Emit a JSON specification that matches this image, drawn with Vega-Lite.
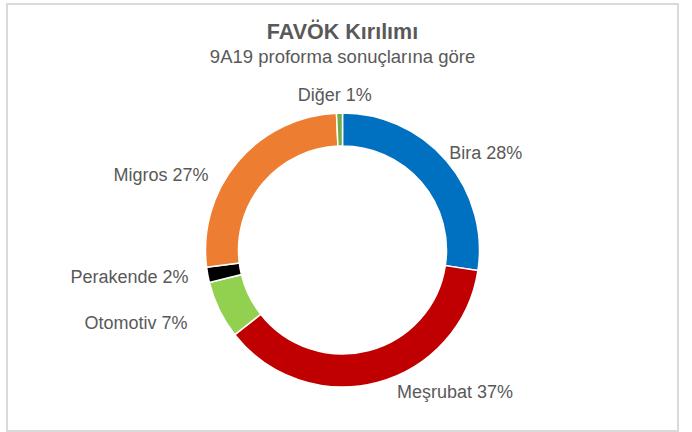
{
  "$schema": "https://vega.github.io/schema/vega-lite/v6.json",
  "width": 671,
  "height": 427,
  "autosize": {"type": "none"},
  "padding": {"left": 7, "top": 4, "right": 14, "bottom": 1},
  "background": "white",
  "view": {"stroke": "#d9d9d9", "strokeWidth": 2, "fill": "white"},
  "config": {"font": "Liberation Sans"},
  "title": {
    "text": "FAVÖK Kırılımı",
    "subtitle": "9A19 proforma sonuçlarına göre",
    "font": "Liberation Sans",
    "fontSize": 21.5,
    "fontWeight": "bold",
    "color": "#595959",
    "subtitleFont": "Liberation Sans",
    "subtitleFontSize": 18.5,
    "subtitleColor": "#595959",
    "subtitlePadding": 4,
    "anchor": "middle",
    "offset": -62
  },
  "data": {
    "values": [
      {"kategori": "Bira", "pay": 27.4, "etiket": "Bira 28%", "sira": 1},
      {"kategori": "Meşrubat", "pay": 37.0, "etiket": "Meşrubat 37%", "sira": 2},
      {"kategori": "Otomotiv", "pay": 6.8, "etiket": "Otomotiv 7%", "sira": 3},
      {"kategori": "Perakende", "pay": 1.8, "etiket": "Perakende 2%", "sira": 4},
      {"kategori": "Migros", "pay": 26.3, "etiket": "Migros 27%", "sira": 5},
      {"kategori": "Diğer", "pay": 0.7, "etiket": "Diğer 1%", "sira": 6}
    ]
  },
  "encoding": {
    "theta": {"field": "pay", "type": "quantitative", "stack": true},
    "order": {"field": "sira", "type": "quantitative"},
    "detail": {"field": "kategori", "type": "nominal"}
  },
  "layer": [
    {
      "mark": {"type": "arc", "outerRadius": 137, "innerRadius": 104, "stroke": "white", "strokeWidth": 1.5, "yOffset": 32.5},
      "encoding": {
        "color": {
          "field": "kategori",
          "type": "nominal",
          "scale": {
            "domain": ["Bira", "Meşrubat", "Otomotiv", "Perakende", "Migros", "Diğer"],
            "range": ["#0070C0", "#C00000", "#92D050", "#000000", "#ED7D31", "#70AD47"]
          },
          "legend": null
        }
      }
    },
    {
      "mark": {"type": "text", "radius": 140, "align": "left", "baseline": "alphabetic", "fontSize": 18, "color": "#595959", "dx": 0.5, "dy": 0, "yOffset": 32.5},
      "encoding": {"text": {"condition": {"test": "datum.kategori === 'Bira'", "field": "etiket"}, "value": ""}}
    },
    {
      "mark": {"type": "text", "radius": 157, "align": "left", "baseline": "alphabetic", "fontSize": 18, "color": "#595959", "dx": 14.5, "dy": -4, "yOffset": 32.5},
      "encoding": {"text": {"condition": {"test": "datum.kategori === 'Meşrubat'", "field": "etiket"}, "value": ""}}
    },
    {
      "mark": {"type": "text", "radius": 174, "align": "right", "baseline": "alphabetic", "fontSize": 18, "color": "#595959", "dx": 1.5, "dy": 3, "yOffset": 32.5},
      "encoding": {"text": {"condition": {"test": "datum.kategori === 'Otomotiv'", "field": "etiket"}, "value": ""}}
    },
    {
      "mark": {"type": "text", "radius": 158, "align": "right", "baseline": "alphabetic", "fontSize": 18, "color": "#595959", "dx": 1.5, "dy": 4, "yOffset": 32.5},
      "encoding": {"text": {"condition": {"test": "datum.kategori === 'Perakende'", "field": "etiket"}, "value": ""}}
    },
    {
      "mark": {"type": "text", "radius": 147, "align": "right", "baseline": "alphabetic", "fontSize": 18, "color": "#595959", "dx": -21.5, "dy": 26, "yOffset": 32.5},
      "encoding": {"text": {"condition": {"test": "datum.kategori === 'Migros'", "field": "etiket"}, "value": ""}}
    },
    {
      "mark": {"type": "text", "radius": 149.5, "align": "center", "baseline": "alphabetic", "fontSize": 18, "color": "#595959", "dx": -4.5, "dy": 0, "yOffset": 32.5},
      "encoding": {"text": {"condition": {"test": "datum.kategori === 'Diğer'", "field": "etiket"}, "value": ""}}
    }
  ]
}
